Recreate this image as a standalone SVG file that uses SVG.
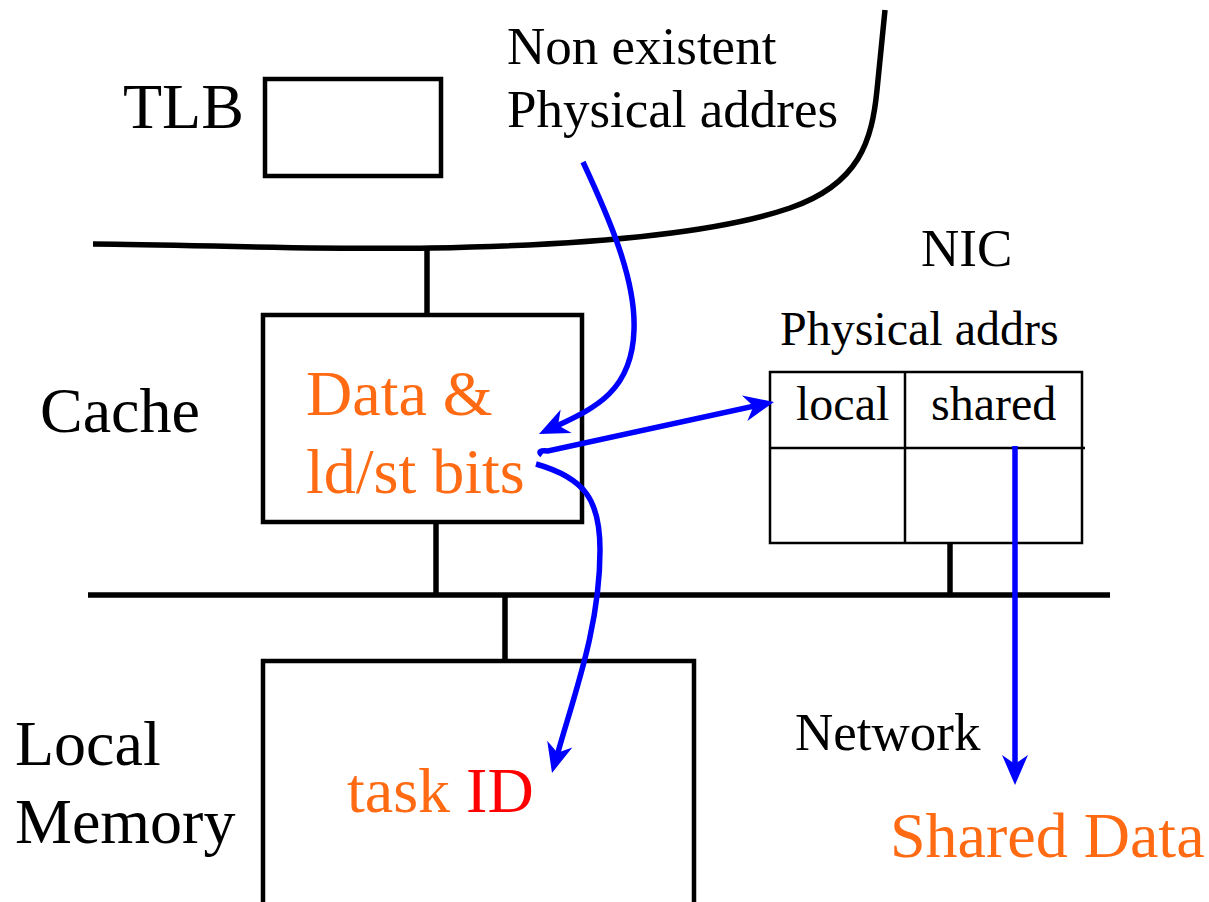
<svg xmlns="http://www.w3.org/2000/svg" width="1209" height="902" viewBox="0 0 1209 902">
<style>
text{font-family:"Liberation Serif","Times New Roman",serif;fill:#000}
.big{font-size:64px}
.mid{font-size:53px}
.sm{font-size:48px}
.or{fill:#ff6a13}
.red{fill:#ff0000}
.head{fill:#0000ff;stroke:none}
</style>
<defs>
<path id="ahp" d="M0,0 L-30,-13 L-21,0 L-30,13 z"/>
</defs>
<rect width="1209" height="902" fill="#fff"/>
<g id="wires" fill="none" stroke="#000" stroke-width="5.5">
<path d="M93,244 C200,245 330,250 430,248 C600,245 720,232 790,208 C860,184 872,140 877,90 L885,10"/>
<line x1="427" y1="248" x2="427" y2="315"/>
<line x1="436" y1="522" x2="436" y2="595"/>
<line x1="88" y1="595" x2="1110" y2="595"/>
<line x1="505" y1="595" x2="505" y2="661"/>
<line x1="950" y1="543" x2="950" y2="595"/>
</g>
<g id="tlb">
<text class="big" x="123" y="128">TLB</text>
<rect x="265" y="79" width="176" height="97" fill="none" stroke="#000" stroke-width="4.5"/>
</g>
<g id="nonexistent">
<text class="mid" x="507" y="64">Non existent</text>
<text class="mid" x="507" y="127">Physical addres</text>
</g>
<g id="cache">
<text class="big" x="40" y="432">Cache</text>
<rect x="263" y="315" width="319" height="207" fill="none" stroke="#000" stroke-width="4.5"/>
<text class="big or" x="306" y="415">Data &amp;</text>
<text class="big or" x="306" y="493">ld/st bits</text>
</g>
<g id="nic">
<text class="mid" x="921" y="266">NIC</text>
<text class="sm" x="780" y="345">Physical addrs</text>
<g fill="none" stroke="#000" stroke-width="2.5">
<rect x="770" y="372" width="312" height="171"/>
<line x1="905" y1="372" x2="905" y2="543"/>
<line x1="770" y1="448" x2="1085" y2="448"/>
</g>
<text class="sm" x="796" y="420">local</text>
<text class="sm" x="931" y="420">shared</text>
</g>
<g id="memory">
<text class="big" x="15" y="765">Local</text>
<text class="big" x="15" y="843">Memory</text>
<rect x="263" y="661" width="431" height="250" fill="none" stroke="#000" stroke-width="4.5"/>
<text class="big" x="347" y="812"><tspan class="or">task </tspan><tspan class="red">ID</tspan></text>
</g>
<g id="network">
<text class="mid" x="795" y="750">Network</text>
<text class="big or" x="890" y="857">Shared Data</text>
</g>
<g id="connectors">
<g fill="none" stroke="#0000ff" stroke-width="5.5">
<path d="M583,162 C610,220 636,280 634,330 C632,395 590,410 548,430"/>
<path d="M542,455 C538,452 540,450 548,451 L764,404"/>
<path d="M536,464 C585,478 600,500 600,550 C600,630 572,700 555,763"/>
<path d="M1015,446 L1015,775"/>
</g>
<use href="#ahp" class="head" transform="translate(539,434) rotate(155)"/>
<use href="#ahp" class="head" transform="translate(774,402) rotate(-12)"/>
<use href="#ahp" class="head" transform="translate(552,773) rotate(105)"/>
<use href="#ahp" class="head" transform="translate(1015,785) rotate(90)"/>
</g>
</svg>
